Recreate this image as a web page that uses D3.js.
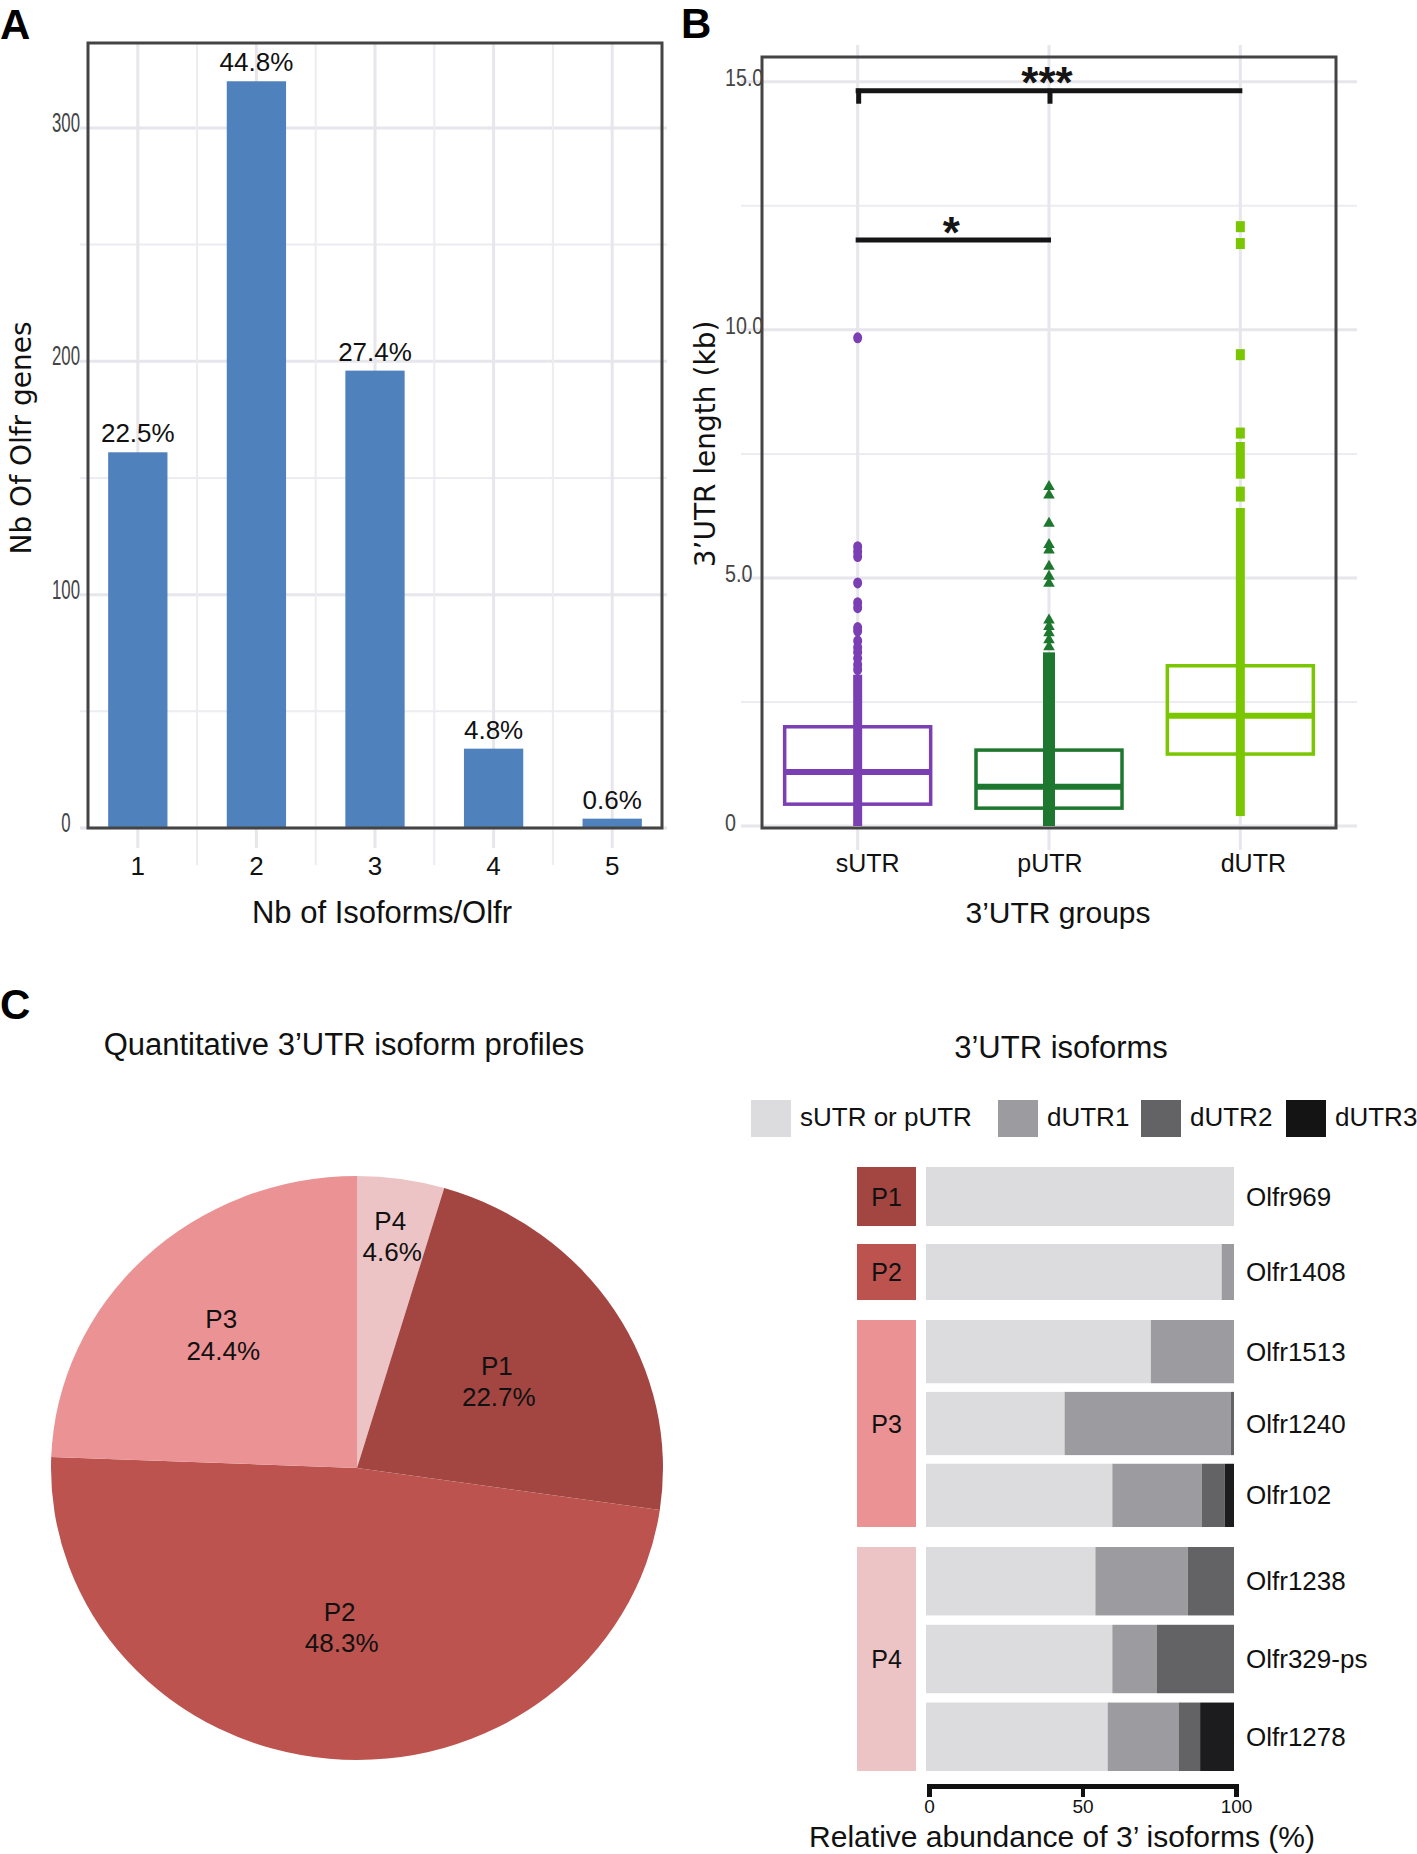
<!DOCTYPE html>
<html><head><meta charset="utf-8">
<script src="https://cdn.jsdelivr.net/npm/d3@7"></script>
<style>
body{margin:0;background:#fff;}
svg{display:block;font-family:"Liberation Sans",Arial,sans-serif;}
</style></head><body>
<svg id="chart" width="1417" height="1854"></svg>
<script>
// ================= DATA =================
// Panel A
const isoformCounts = ["1", "2", "3", "4", "5"];
const geneCounts = [161, 320, 196, 34, 4];
const geneShareLabels = ["22.5%", "44.8%", "27.4%", "4.8%", "0.6%"];
const countTicks = [0, 100, 200, 300];
const countMinorTicks = [50, 150, 250];

// Panel B
const utrGroups = ["sUTR", "pUTR", "dUTR"];
const boxQ1 = [0.44, 0.36, 1.45];
const boxMedian = [1.09, 0.79, 2.22];
const boxQ3 = [2.0, 1.53, 3.23];
const sUTRPoints = [9.84, 5.63, 5.53, 5.43, 4.9, 4.5, 4.4, 4.0, 3.93, 3.73, 3.6, 3.5, 3.38, 3.25, 3.15];
const pUTRPoints = [6.84, 6.67, 6.1, 5.67, 5.56, 5.23, 5.03, 4.89, 4.15, 4.02, 3.89, 3.75, 3.61];
const dUTRPoints = [12.08, 11.74, 9.5, 7.92];
const sUTRDense = [[0, 3.05]];
const pUTRDense = [[0, 3.5]];
const dUTRDense = [[0.2, 6.41], [6.54, 6.84], [7.0, 7.74]];
const lengthTicks = [0, 5, 10, 15];
const lengthTickLabels = ["0", "5.0", "10.0", "15.0"];
const lengthMinorTicks = [2.5, 7.5, 12.5];
const sigLabels = ["***", "*"];
const sigFrom = ["sUTR", "sUTR"];
const sigTo = ["dUTR", "pUTR"];
const sigLevel = [14.82, 11.81];
const sigTicks = [["sUTR", "pUTR"], []];

// Panel C – pie
const profiles = ["P4", "P1", "P2", "P3"];
const profileShare = [4.6, 22.7, 48.3, 24.4];

// Panel C – stacked bars
const isoformClasses = ["sUTR or pUTR", "dUTR1", "dUTR2", "dUTR3"];
const genes = ["Olfr969", "Olfr1408", "Olfr1513", "Olfr1240", "Olfr102", "Olfr1238", "Olfr329-ps", "Olfr1278"];
const geneProfile = ["P1", "P2", "P3", "P3", "P3", "P4", "P4", "P4"];
const shortUTR = [100, 96, 73, 45, 60.5, 55, 60.5, 59];
const dUTR1 = [0, 4, 27, 54, 29, 30, 14.5, 23];
const dUTR2 = [0, 0, 0, 1, 7.5, 15, 25, 7];
const dUTR3 = [0, 0, 0, 0, 3, 0, 0, 11];
const abundanceTicks = [0, 50, 100];

// ================= STYLE / LAYOUT =================
const svg = d3.select("#chart");
const INK = "#111";
const GRID = "#e6e6ec";
const GRID_MINOR = "#ececf1";
const FRAME = "#444";
const BAR_BLUE = "#4f81bd";
const groupColor = {sUTR: "#7b3fb4", pUTR: "#1e772e", dUTR: "#7ac600"};
const profileColor = {P1: "#a34642", P2: "#bd534e", P3: "#eb9294", P4: "#ecc4c5"};
const isoColor = ["#dcdcdf", "#9c9ca0", "#636265", "#1c1c1e"];

function condText(g, x, y, str, size, sx, anchor, fill) {
  return g.append("text")
    .attr("transform", `translate(${x},${y}) scale(${sx},1)`)
    .attr("text-anchor", anchor)
    .attr("font-size", size)
    .attr("fill", fill)
    .text(str);
}

// Panel letters
[["A", 0, 39], ["B", 681, 38], ["C", 0, 1019]].forEach(([t, x, y]) => {
  svg.append("text").attr("x", x).attr("y", y).attr("font-size", 42)
    .attr("font-weight", "bold").attr("fill", "#000").text(t);
});

// ================= PANEL A =================
(function () {
  const g = svg.append("g");
  const L = 88, R = 662, T = 43, B = 828;
  const x = d3.scaleBand(isoformCounts, [L, R]).paddingInner(0.5).paddingOuter(0.17);
  const y = d3.scaleLinear([0, 336.4], [B, T]);
  const step = x.step(), bw = x.bandwidth();

  countMinorTicks.forEach(v => g.append("line").attr("x1", 80).attr("x2", 667)
    .attr("y1", y(v)).attr("y2", y(v)).attr("stroke", GRID_MINOR).attr("stroke-width", 2));
  countTicks.forEach(v => g.append("line").attr("x1", 80).attr("x2", 667)
    .attr("y1", y(v)).attr("y2", y(v)).attr("stroke", GRID).attr("stroke-width", 3));
  isoformCounts.forEach((c, i) => {
    const cx = x(c) + bw / 2;
    g.append("line").attr("x1", cx).attr("x2", cx).attr("y1", T).attr("y2", 848)
      .attr("stroke", GRID).attr("stroke-width", 3);
    if (i < isoformCounts.length - 1) {
      g.append("line").attr("x1", cx + step / 2).attr("x2", cx + step / 2).attr("y1", T).attr("y2", 865)
        .attr("stroke", GRID_MINOR).attr("stroke-width", 2);
    }
  });

  g.selectAll("rect.bar").data(geneCounts).join("rect").attr("class", "bar")
    .attr("x", (d, i) => x(isoformCounts[i])).attr("width", bw)
    .attr("y", d => y(d)).attr("height", d => y(0) - y(d)).attr("fill", BAR_BLUE);

  g.selectAll("text.pct").data(geneCounts).join("text").attr("class", "pct")
    .attr("x", (d, i) => x(isoformCounts[i]) + bw / 2).attr("y", d => y(d) - 10)
    .attr("text-anchor", "middle").attr("font-size", 26).attr("fill", INK)
    .text((d, i) => geneShareLabels[i]);

  g.append("rect").attr("x", L).attr("y", T).attr("width", R - L).attr("height", B - T)
    .attr("fill", "none").attr("stroke", FRAME).attr("stroke-width", 3);

  countTicks.forEach(v => condText(g, 66, y(v) + 4, String(v), 28, 0.6, "middle", "#444"));
  isoformCounts.forEach(c => g.append("text").attr("x", x(c) + bw / 2).attr("y", 875)
    .attr("text-anchor", "middle").attr("font-size", 26).attr("fill", INK).text(c));

  g.append("text").attr("x", 382).attr("y", 923).attr("text-anchor", "middle")
    .attr("font-size", 31).attr("fill", INK).text("Nb of Isoforms/Olfr");
  g.append("text").attr("transform", "translate(31,438) rotate(-90)").attr("text-anchor", "middle")
    .attr("font-family", "DejaVu Sans").attr("font-size", 28).attr("fill", INK).text("Nb Of Olfr genes");
})();

// ================= PANEL B =================
(function () {
  const g = svg.append("g");
  const L = 762, R = 1336, T = 57, B = 828;
  const x = d3.scalePoint(utrGroups, [L, R]).padding(0.5);
  const y = d3.scaleLinear([0, 15.5], [826, T]);
  const labelShift = [10, 1, 13];

  lengthMinorTicks.forEach(v => g.append("line").attr("x1", 741).attr("x2", 1357)
    .attr("y1", y(v)).attr("y2", y(v)).attr("stroke", GRID_MINOR).attr("stroke-width", 2));
  lengthTicks.forEach(v => g.append("line").attr("x1", 741).attr("x2", 1357)
    .attr("y1", y(v)).attr("y2", y(v)).attr("stroke", GRID).attr("stroke-width", 3));
  utrGroups.forEach(c => g.append("line").attr("x1", x(c)).attr("x2", x(c))
    .attr("y1", 45).attr("y2", 850).attr("stroke", GRID).attr("stroke-width", 3));

  const boxW = 146;
  const pts = [sUTRPoints, pUTRPoints, dUTRPoints];
  const dense = [sUTRDense, pUTRDense, dUTRDense];
  const denseW = [9, 12, 9];
  utrGroups.forEach((c, i) => {
    const cx = x(c), col = groupColor[c];
    g.append("rect").attr("x", cx - boxW / 2).attr("width", boxW)
      .attr("y", y(boxQ3[i])).attr("height", y(boxQ1[i]) - y(boxQ3[i]))
      .attr("fill", "none").attr("stroke", col).attr("stroke-width", 3.5);
    g.append("line").attr("x1", cx - boxW / 2).attr("x2", cx + boxW / 2)
      .attr("y1", y(boxMedian[i])).attr("y2", y(boxMedian[i]))
      .attr("stroke", col).attr("stroke-width", 6);
    dense[i].forEach(([lo, hi]) => g.append("rect").attr("x", cx - denseW[i] / 2).attr("width", denseW[i])
      .attr("y", y(hi)).attr("height", y(lo) - y(hi)).attr("fill", col));
    pts[i].forEach(v => {
      if (c === "sUTR") {
        g.append("ellipse").attr("cx", cx).attr("cy", y(v)).attr("rx", 4.5).attr("ry", 5.5).attr("fill", col);
      } else if (c === "pUTR") {
        g.append("path").attr("d", d3.symbol(d3.symbolTriangle, 58)())
          .attr("transform", `translate(${cx},${y(v)})`).attr("fill", col);
      } else {
        g.append("rect").attr("x", cx - 4.5).attr("y", y(v) - 5.5).attr("width", 9).attr("height", 11).attr("fill", col);
      }
    });
  });

  sigLabels.forEach((lab, i) => {
    const yy = y(sigLevel[i]);
    const x1 = x(sigFrom[i]) - 2, x2 = x(sigTo[i]) + 2;
    g.append("line").attr("x1", x1).attr("x2", x2).attr("y1", yy).attr("y2", yy)
      .attr("stroke", "#151515").attr("stroke-width", 5);
    sigTicks[i].forEach(t => g.append("line").attr("x1", x(t) + 1).attr("x2", x(t) + 1)
      .attr("y1", yy - 2).attr("y2", yy + 13).attr("stroke", "#151515").attr("stroke-width", 5));
    const mx = i === 0 ? x("pUTR") - 2 : (x(sigFrom[i]) + x(sigTo[i])) / 2 - 2;
    g.append("text").attr("x", mx).attr("y", yy + 7.5).attr("text-anchor", "middle")
      .attr("font-size", 44).attr("font-weight", "bold").attr("fill", "#151515").text(lab);
  });

  g.append("rect").attr("x", L).attr("y", T).attr("width", R - L).attr("height", B - T)
    .attr("fill", "none").attr("stroke", FRAME).attr("stroke-width", 3);

  lengthTicks.forEach((v, i) => condText(g, 725, y(v) + 4.5, lengthTickLabels[i], 24, 0.82, "start", "#444"));
  utrGroups.forEach((c, i) => g.append("text").attr("x", x(c) + labelShift[i]).attr("y", 872)
    .attr("text-anchor", "middle").attr("font-size", 25).attr("fill", INK).text(c));

  g.append("text").attr("x", 1058).attr("y", 923).attr("text-anchor", "middle")
    .attr("font-size", 30).attr("fill", INK).text("3\u2019UTR groups");
  g.append("text").attr("transform", "translate(715,444) rotate(-90)").attr("text-anchor", "middle")
    .attr("font-family", "DejaVu Sans").attr("font-size", 28).attr("fill", INK).text("3\u2019UTR length (kb)");
})();

// ================= PANEL C – PIE =================
(function () {
  const g = svg.append("g");
  g.append("text").attr("x", 344).attr("y", 1055).attr("text-anchor", "middle")
    .attr("font-size", 31).attr("fill", INK).text("Quantitative 3\u2019UTR isoform profiles");
  const cx = 357, cy = 1468, rx = 306, ry = 292;
  const pie = d3.pie().sort(null).value(d => d.v);
  const arcs = pie(profiles.map((p, i) => ({p, v: profileShare[i]})));
  const arc = d3.arc().innerRadius(0).outerRadius(ry);
  const pg = g.append("g").attr("transform", `translate(${cx},${cy}) scale(${rx / ry},1)`);
  pg.selectAll("path").data(arcs).join("path").attr("d", arc).attr("fill", d => profileColor[d.data.p]);
  const labelR = {P4: 0.8, P1: 0.55, P2: 0.55, P3: 0.63};
  arcs.forEach(a => {
    const m = (a.startAngle + a.endAngle) / 2, f = labelR[a.data.p];
    const lx = cx + Math.sin(m) * f * rx, ly = cy - Math.cos(m) * f * ry;
    g.append("text").attr("x", lx - 2).attr("y", ly - 7).attr("text-anchor", "middle")
      .attr("font-size", 26).attr("fill", INK).text(a.data.p);
    g.append("text").attr("x", lx).attr("y", ly + 24.5).attr("text-anchor", "middle")
      .attr("font-size", 26).attr("fill", INK).text(a.data.v.toFixed(1) + "%");
  });
})();

// ================= PANEL C – STACKED BARS =================
(function () {
  const g = svg.append("g");
  g.append("text").attr("x", 1061).attr("y", 1058).attr("text-anchor", "middle")
    .attr("font-size", 31).attr("fill", INK).text("3\u2019UTR isoforms");

  const legendX = [751, 998, 1141, 1286];
  isoformClasses.forEach((k, i) => {
    g.append("rect").attr("x", legendX[i]).attr("y", 1100).attr("width", 40).attr("height", 37)
      .attr("fill", i === 3 ? "#141414" : isoColor[i]);
    g.append("text").attr("x", legendX[i] + 49).attr("y", 1126).attr("font-size", 26)
      .attr("fill", INK).text(k);
  });

  const x = d3.scaleLinear([0, 100], [926, 1234]);
  const groupExtent = {P1: [1167, 1226], P2: [1244, 1300], P3: [1320, 1527], P4: [1547, 1771]};
  const rowY = {}, rowH = {};
  Object.keys(groupExtent).forEach(p => {
    const members = genes.filter((gn, i) => geneProfile[i] === p);
    const sc = d3.scaleBand(members, groupExtent[p]).paddingInner(members.length > 1 ? 0.12 : 0);
    members.forEach(m => { rowY[m] = sc(m); rowH[m] = sc.bandwidth(); });
    g.append("rect").attr("x", 857).attr("width", 59).attr("y", groupExtent[p][0])
      .attr("height", groupExtent[p][1] - groupExtent[p][0]).attr("fill", profileColor[p]);
    g.append("text").attr("x", 886.5).attr("y", (groupExtent[p][0] + groupExtent[p][1]) / 2 + 9)
      .attr("text-anchor", "middle").attr("font-size", 25).attr("fill", INK).text(p);
  });

  const table = genes.map((gn, i) => ({gene: gn, "sUTR or pUTR": shortUTR[i], dUTR1: dUTR1[i], dUTR2: dUTR2[i], dUTR3: dUTR3[i]}));
  const series = d3.stack().keys(isoformClasses)(table);
  series.forEach((s, k) => {
    g.append("g").selectAll("rect").data(s).join("rect")
      .attr("x", d => x(d[0])).attr("width", d => x(d[1]) - x(d[0]))
      .attr("y", d => rowY[d.data.gene]).attr("height", d => rowH[d.data.gene])
      .attr("fill", isoColor[k]);
  });

  genes.forEach(gn => g.append("text").attr("x", 1246).attr("y", rowY[gn] + rowH[gn] / 2 + 9)
    .attr("font-size", 26).attr("fill", INK).text(gn));

  const ax = g.append("g").attr("transform", "translate(0,1786)")
    .call(d3.axisBottom(d3.scaleLinear([0, 100], [929, 1236])).tickValues(abundanceTicks)
      .tickSize(11).tickSizeOuter(11).tickPadding(3));
  ax.select(".domain").attr("stroke", INK).attr("stroke-width", 5);
  ax.selectAll(".tick line").attr("stroke", INK).attr("stroke-width", 4);
  ax.selectAll(".tick text").attr("font-size", 19).attr("fill", INK)
    .attr("font-family", "Liberation Sans, Arial, sans-serif");

  g.append("text").attr("x", 1062).attr("y", 1847).attr("text-anchor", "middle")
    .attr("font-size", 30).attr("fill", INK).text("Relative abundance of 3\u2019 isoforms (%)");
})();
</script>
</body></html>
